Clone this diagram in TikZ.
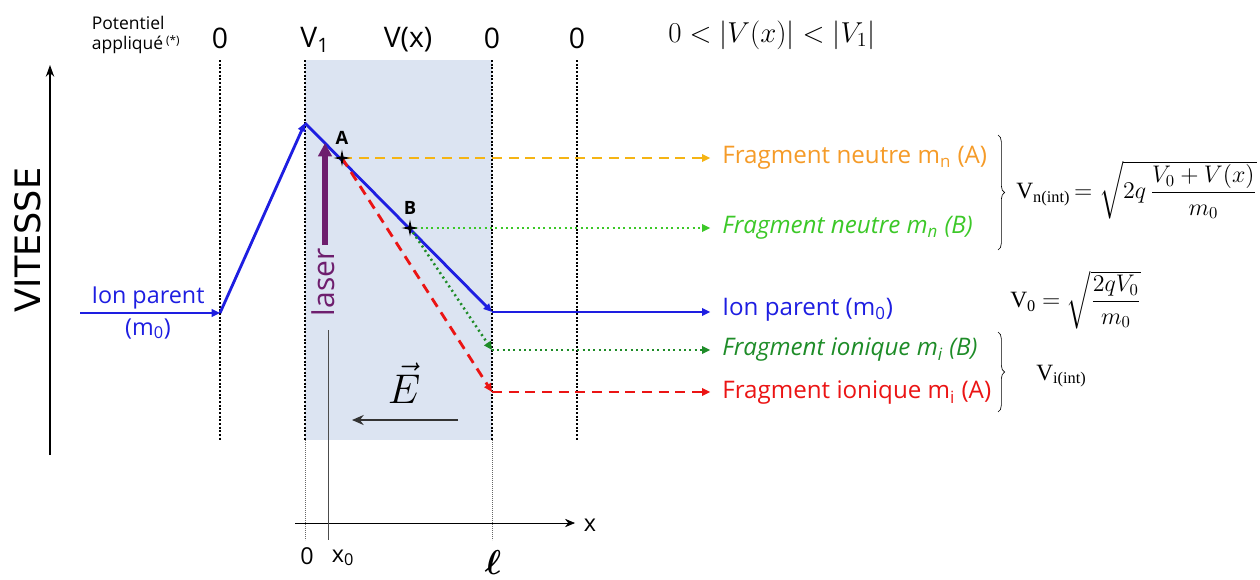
\documentclass[tikz,border=0pt]{standalone}
\usepackage{fontspec}
\usepackage{amsmath}
\setmainfont{Liberation Serif}
\setsansfont{Open Sans}
\newfontfamily\vitfont{DejaVu Sans}
\usetikzlibrary{positioning, arrows.meta, calc, shapes.geometric, decorations.pathreplacing}
\definecolor{ionblue}{RGB}{30,30,225}
\definecolor{neutline}{RGB}{245,180,20}
\definecolor{neutorange}{RGB}{245,155,40}
\definecolor{neutgreen}{RGB}{60,200,40}
\definecolor{iongreen}{RGB}{30,140,40}
\definecolor{ionred}{RGB}{235,20,20}
\definecolor{laserpurple}{RGB}{110,30,110}
\definecolor{zonefill}{RGB}{220,228,242}
\tikzset{
  % labels
  lbl/.style={font=\sffamily\fontsize{14.5}{17}\selectfont, anchor=west, inner sep=0pt},
  potlbl/.style={font=\sffamily\fontsize{17}{20}\selectfont, inner sep=0pt},
  formula/.style={font=\fontsize{14}{17}\selectfont, anchor=west, inner sep=0pt},
  % lines
  gridline/.style={line width=1.6pt, dash pattern=on 1.1pt off 1.1pt},
  thingrid/.style={very thin, black!60, dash pattern=on 0.6pt off 0.6pt},
  tip/.style={-{Triangle[length=5pt, width=4.5pt]}},
  bluearr/.style={tip, line width=1.7pt, draw=ionblue},
  neutAarr/.style={tip, line width=1.5pt, draw=neutline, dash pattern=on 6pt off 4pt},
  neutBarr/.style={tip, line width=1.5pt, draw=neutgreen, dash pattern=on 1.2pt off 2pt},
  ionAarr/.style={tip, line width=1.7pt, draw=ionred, dash pattern=on 6pt off 4pt},
  ionBarr/.style={tip, line width=1.5pt, draw=iongreen, dash pattern=on 1.2pt off 2pt},
  axisarr/.style={-{Stealth[length=7pt, width=5pt]}, line width=1.2pt},
  starmark/.style={star, star points=4, star point ratio=4, fill=black,
    minimum size=10pt, inner sep=0pt},
  bracket/.style={decorate, decoration={brace, amplitude=4pt}, thin},
}

\begin{document}
\begin{tikzpicture}[x=0.6pt, y=-0.6pt]
  \useasboundingbox (0,0) rectangle (1260,579);

  % field region
  \fill[zonefill] (305,60) rectangle (492,440);
  \foreach \gx [count=\i] in {220, 305, 492, 577} {
    \coordinate (gt\i) at (\gx,60);
    \coordinate (gb\i) at (\gx,440);
    \draw[gridline] (gt\i) -- (gb\i);
  }

  % applied potentials
  \node[font=\sffamily\fontsize{10.5}{12}\selectfont, align=left, anchor=west] (potl) at (86,35)
    {Potentiel\\appliqué\,\raisebox{0.5ex}{\scriptsize(*)}};
  \node[potlbl] (p0) at (220,38) {0};
  \node[potlbl] (p1) at (315,40) {V\textsubscript{1}};
  \node[potlbl] (px) at (408,40) {V(x)};
  \node[potlbl] (p2) at (492,38) {0};
  \node[potlbl] (p3) at (577,38) {0};
  \node[font=\fontsize{17}{20}\selectfont, anchor=west, inner sep=0pt] (cond) at (668,35)
    {$0<|V(x)|<|V_{1}|$};

  % speed axis
  \coordinate (vbot) at (50,455);
  \coordinate (vtop) at (50,65);
  \draw[axisarr] (vbot) -- (vtop);
  \node[rotate=90, font=\vitfont\fontsize{21}{24}\selectfont] (vit) at (28,240) {VITESSE};

  % parent ion path
  \coordinate (in) at (80,313);
  \coordinate (g0) at (220,313);
  \coordinate (peak) at (305,123);
  \coordinate (exitP) at (492,312);
  \coordinate (exitB) at (492,350);
  \coordinate (exitA) at (492,392);
  \coordinate (cA) at (342,158);
  \coordinate (cB) at (410,228);

  \node[font=\sffamily\fontsize{14}{17}\selectfont, text=ionblue, anchor=south, inner sep=2pt] (ipin) at (148,313) {Ion parent};
  \node[font=\sffamily\fontsize{14}{17}\selectfont, text=ionblue, anchor=north, inner sep=3pt] (ipm) at (148,313) {(m\textsubscript{0})};

  % output labels
  \node[lbl, text=neutorange] (lnA) at (722,158) {Fragment neutre m\textsubscript{n} (A)};
  \node[lbl, text=neutgreen] (lnB) at (722,228) {\itshape Fragment neutre m\textsubscript{\itshape n} (B)};
  \node[lbl, text=ionblue] (lP) at (722,310) {Ion parent (m\textsubscript{0})};
  \node[lbl, text=iongreen] (liB) at (722,350) {\itshape Fragment ionique m\textsubscript{\itshape i} (B)};
  \node[lbl, text=ionred] (liA) at (722,393) {Fragment ionique m\textsubscript{i} (A)};

  \draw[bluearr] (in) -- (g0);
  \draw[bluearr] (g0) -- (peak);
  \draw[bluearr] (peak) -- (exitP);
  \draw[bluearr, shorten >=7pt] (exitP) -- (exitP -| lP.west);
  \draw[neutAarr, shorten >=7pt] (cA) -- (cA -| lnA.west);
  \draw[neutBarr, shorten >=7pt] (cB) -- (cB -| lnB.west);
  \draw[ionAarr] (cA) -- (exitA);
  \draw[ionAarr, shorten >=7pt] (exitA) -- (exitA -| liA.west);
  \draw[ionBarr] (cB) -- (exitB);
  \draw[ionBarr, shorten >=7pt] (exitB) -- (exitB -| liB.west);

  % fragmentation points
  \node[starmark] (A) at (cA) {};
  \node[starmark] (B) at (cB) {};
  \node[above=1pt of A, font=\sffamily\bfseries\fontsize{11}{12}\selectfont, inner sep=1pt] (lblA) {A};
  \node[above=1pt of B, font=\sffamily\bfseries\fontsize{11}{12}\selectfont, inner sep=1pt] (lblB) {B};

  % laser
  \coordinate (lasbot) at (325,245);
  \coordinate (lastop) at (325,143);
  \draw[-{Triangle[length=8pt, width=8pt]}, line width=3.6pt, laserpurple] (lasbot) -- (lastop);
  \node[rotate=90, anchor=east, text=laserpurple, font=\sffamily\fontsize{18}{20}\selectfont, inner sep=0pt] (laser) at (323,248) {laser};

  % field
  \node[font=\fontsize{31}{32}\selectfont, inner sep=0pt] (E) at (404,383) {$\vec{E}$};
  \coordinate (eR) at (458,420);
  \coordinate (eL) at (352,420);
  \draw[-{Stealth[length=7pt, width=6pt]}, line width=1.3pt, black!80] (eR) -- (eL);

  % x axis
  \coordinate (xa0) at (295,523);
  \coordinate (xa1) at (575,523);
  \draw[-{Stealth[length=6pt, width=5pt]}, thin] (xa0) -- (xa1);
  \node[font=\sffamily\fontsize{14}{17}\selectfont, anchor=west] (xlbl) at (578,525) {x};
  \coordinate (x0top) at (328,330);
  \coordinate (x0bot) at (328,540);
  \draw[very thin, black!70] (x0top) -- (x0bot);
  \draw[thingrid] (gb2) -- (305,540);
  \draw[thingrid] (gb3) -- (492,540);
  \node[font=\sffamily\fontsize{14}{17}\selectfont] (t0) at (307,556) {0};
  \node[font=\sffamily\fontsize{14}{17}\selectfont] (tx0) at (343,558) {x\textsubscript{0}};
  \node[font=\fontsize{22}{24}\selectfont] (tl) at (493,562) {$\boldsymbol{\ell}$};

  % velocity brackets
  \coordinate (bnTop) at (998,135);
  \coordinate (bnBot) at (998,250);
  \coordinate (biTop) at (998,332);
  \coordinate (biBot) at (998,412);
  \draw[bracket] (bnTop) -- (bnBot);
  \draw[bracket] (biTop) -- (biBot);
  \node[formula] (vn) at (1016,190)
    {V\textsubscript{n(int)}\,$=\sqrt{2q\,\dfrac{V_0+V(x)}{m_0}}$};
  \node[formula] (v0) at (1010,300)
    {V\textsubscript{0} $=\sqrt{\dfrac{2qV_0}{m_0}}$};
  \node[formula] (vi) at (1036,376) {V\textsubscript{i(int)}};
\end{tikzpicture}
\end{document}
